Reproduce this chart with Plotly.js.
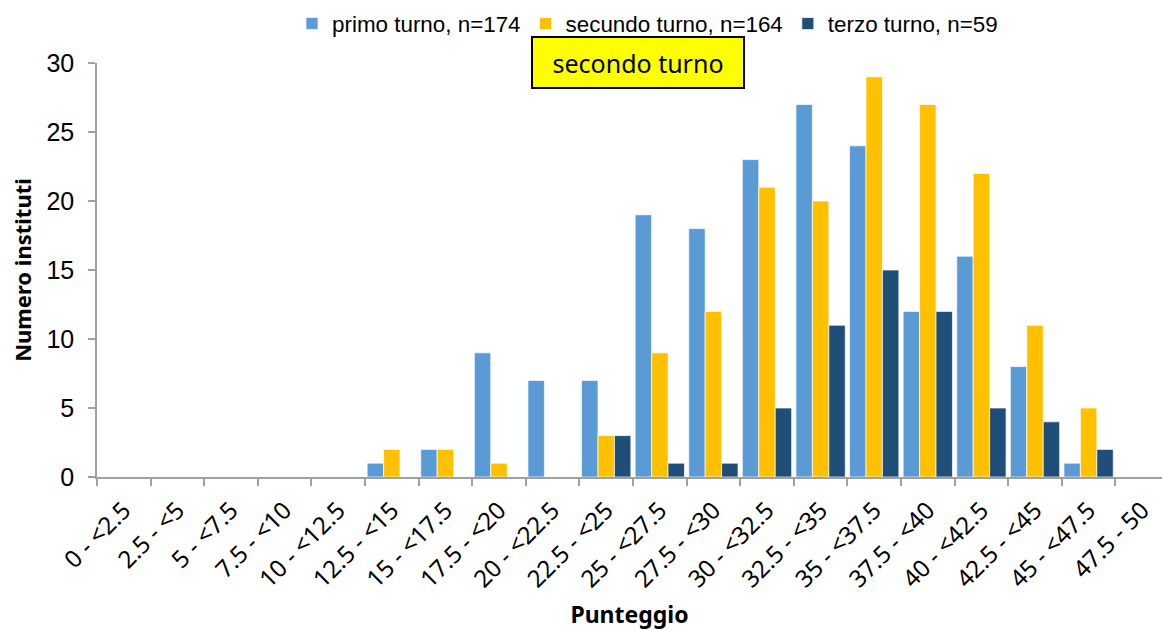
<!DOCTYPE html>
<html>
<head>
<meta charset="utf-8">
<script src="https://cdn.plot.ly/plotly-3.0.1.min.js"></script>
<style>html,body{margin:0;padding:0;background:#fff;}#chart{width:1162px;height:630px;}</style>
</head>
<body>
<div id="chart"></div>
<script>
const categories = ["0 - <2.5","2.5 - <5","5 - <7.5","7.5 - <10","10 - <12.5","12.5 - <15","15 - <17.5","17.5 - <20","20 - <22.5","22.5 - <25","25 - <27.5","27.5 - <30","30 - <32.5","32.5 - <35","35 - <37.5","37.5 - <40","40 - <42.5","42.5 - <45","45 - <47.5","47.5 - 50"];
const primoTurno   = [0,0,0,0,0,1,2,9,7,7,19,18,23,27,24,12,16,8,1,0];
const secondoTurno = [0,0,0,0,0,2,2,1,0,3,9,12,21,20,29,27,22,11,5,0];
const terzoTurno   = [0,0,0,0,0,0,0,0,0,3,1,1,5,11,15,12,5,4,2,0];
const seriesNames = ["primo turno, n=174","secundo turno, n=164","terzo turno, n=59"];
const yTicks = [0,5,10,15,20,25,30];

const colors = ["#5B9BD5","#FFC000","#1F4E79"];
const lineCol = "rgba(255,255,255,0.7)";
const data = [primoTurno, secondoTurno, terzoTurno].map((vals, i) => ({
  type: "bar",
  x: categories,
  y: vals,
  name: seriesNames[i],
  marker: {color: colors[i], line: {color: lineCol, width: 1}},
  hoverinfo: "x+y+name"
}));

const plotW = 1162 - 97;
const catW = 53.6;
const layout = {
  width: 1162, height: 630,
  margin: {l: 97, r: 0, t: 63, b: 153},
  paper_bgcolor: "#fff", plot_bgcolor: "#fff",
  barmode: "group",
  bargap: 0.08, bargroupgap: 0,
  font: {family: "Liberation Sans, Arial, sans-serif", color: "#000"},
  showlegend: true,
  legend: {
    orientation: "h", xref: "container", yref: "container",
    x: 292/1162, xanchor: "left", y: 1 - 24/630, yanchor: "middle",
    font: {family: "Liberation Sans, Arial, sans-serif", size: 22.4, color: "#000"},
    traceorder: "normal", itemclick: false, bgcolor: "rgba(0,0,0,0)"
  },
  xaxis: {
    type: "category",
    range: [-0.5, -0.5 + plotW / catW],
    showline: true, linecolor: "#A0A0A0", linewidth: 1.5,
    ticks: "outside", tickson: "boundaries", ticklen: 7, tickcolor: "#A0A0A0", tickwidth: 1.5,
    tickangle: -45,
    ticklabelstandoff: 8,
    tickfont: {family: "Noto Sans, sans-serif", size: 24, color: "#000"},
    showgrid: false, zeroline: false, automargin: false,
    title: {text: "<b>Punteggio</b>", font: {family: "Noto Sans, sans-serif", size: 23, color: "#000"}, standoff: 32}
  },
  yaxis: {
    range: [0, 30],
    tickvals: yTicks,
    showline: true, linecolor: "#A0A0A0", linewidth: 1.5,
    ticks: "outside", ticklen: 7, tickcolor: "#A0A0A0", tickwidth: 1.5,
    ticklabelstandoff: 9,
    tickfont: {family: "Liberation Sans, Arial, sans-serif", size: 25, color: "#000"},
    showgrid: false, zeroline: false, automargin: false,
    title: {text: "<b>Numero instituti</b>", font: {family: "Noto Sans, sans-serif", size: 22, color: "#000"}, standoff: 9}
  },
  annotations: [{
    xref: "paper", yref: "paper",
    x: (638 - 97) / plotW, y: (477 - 62.6) / 414,
    xanchor: "center", yanchor: "middle",
    text: "secondo turno",
    showarrow: false,
    font: {family: "Noto Sans, sans-serif", size: 25, color: "#000"},
    bgcolor: "#FFFF00", bordercolor: "#000", borderwidth: 2, borderpad: 1,
    width: 208, height: 47
  }]
};

Plotly.newPlot("chart", data, layout, {displayModeBar: false, responsive: false});
</script>
</body>
</html>
